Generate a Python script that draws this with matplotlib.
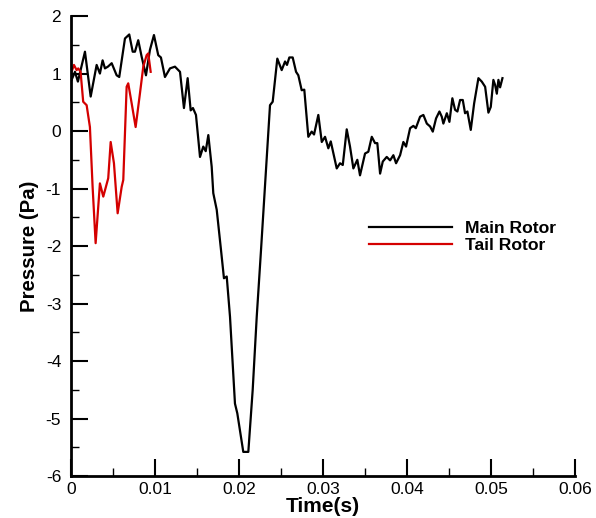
import matplotlib.pyplot as plt
from matplotlib.ticker import MultipleLocator, FuncFormatter

plt.rcParams['font.family'] = ['Liberation Sans', 'DejaVu Sans']
plt.rcParams['axes.unicode_minus'] = False

main_t = [0.00008, 0.00048, 0.00083, 0.00167, 0.00235, 0.00306, 0.00345, 0.00377,
          0.00405, 0.0044, 0.00485, 0.00544, 0.00575, 0.00643, 0.00694, 0.00735,
          0.00762, 0.00801, 0.00842, 0.00893, 0.0094, 0.00988, 0.01039, 0.01071,
          0.01119, 0.01179, 0.01238, 0.01298, 0.01345, 0.01389, 0.01425, 0.01452,
          0.01488, 0.01536, 0.01575, 0.01604, 0.01635, 0.01675, 0.01694, 0.01735,
          0.01774, 0.01786, 0.01821, 0.01854, 0.01893, 0.01952, 0.0198, 0.02051,
          0.02111, 0.02163, 0.02211, 0.02262, 0.02369, 0.02401, 0.02456, 0.02508,
          0.02548, 0.02571, 0.02599, 0.02639, 0.02679, 0.02706, 0.02746, 0.02777,
          0.02825, 0.02865, 0.02893, 0.02944, 0.02985, 0.03024, 0.03063, 0.03092,
          0.03115, 0.03163, 0.03202, 0.03235, 0.03282, 0.03321, 0.03361, 0.03408,
          0.0344, 0.035, 0.03539, 0.0358, 0.03619, 0.03646, 0.03679, 0.03711,
          0.03758, 0.03798, 0.03837, 0.03869, 0.03917, 0.03956, 0.03988, 0.04036,
          0.04075, 0.04104, 0.04155, 0.04194, 0.04235, 0.04274, 0.04306, 0.04345,
          0.04385, 0.04413, 0.04432, 0.04473, 0.04504, 0.04539, 0.04571, 0.04599,
          0.04631, 0.04663, 0.0469, 0.04718, 0.04758, 0.04798, 0.04849, 0.04889,
          0.04929, 0.04968, 0.04996, 0.05027, 0.05048, 0.05068, 0.05087, 0.05107,
          0.05135]
main_p = [0.89, 1.03, 0.86, 1.38, 0.60, 1.15, 1.00, 1.23,
          1.09, 1.12, 1.18, 0.97, 0.94, 1.61, 1.68, 1.38,
          1.38, 1.58, 1.29, 0.97, 1.41, 1.67, 1.32, 1.28,
          0.94, 1.09, 1.12, 1.03, 0.40, 0.92, 0.36, 0.40,
          0.28, -0.45, -0.27, -0.35, -0.07, -0.62, -1.08, -1.37,
          -1.90, -2.07, -2.56, -2.53, -3.23, -4.74, -4.91, -5.58,
          -5.58, -4.50, -3.23, -2.07, 0.45, 0.51, 1.26, 1.06,
          1.21, 1.15, 1.28, 1.28, 1.03, 0.97, 0.71, 0.72,
          -0.10, -0.01, -0.06, 0.28, -0.19, -0.10, -0.30, -0.18,
          -0.33, -0.65, -0.56, -0.59, 0.03, -0.27, -0.65, -0.50,
          -0.77, -0.39, -0.36, -0.10, -0.21, -0.21, -0.74, -0.53,
          -0.45, -0.51, -0.42, -0.56, -0.42, -0.19, -0.27, 0.05,
          0.09, 0.05, 0.25, 0.28, 0.13, 0.08, -0.01, 0.22,
          0.34, 0.25, 0.13, 0.31, 0.16, 0.57, 0.37, 0.34,
          0.54, 0.54, 0.31, 0.34, 0.02, 0.48, 0.92, 0.86,
          0.77, 0.32, 0.42, 0.89, 0.80, 0.65, 0.89, 0.76,
          0.92]

tail_t = [0.00008, 0.00036, 0.00068, 0.00087, 0.00115, 0.00146, 0.00187, 0.00226,
          0.00258, 0.00294, 0.00345, 0.00385, 0.00444, 0.00473, 0.00512, 0.00556,
          0.00604, 0.00623, 0.00663, 0.00682, 0.00723, 0.0077, 0.00821, 0.00861,
          0.00901, 0.0092, 0.00949]
tail_p = [1.03, 1.15, 1.06, 1.09, 1.03, 0.51, 0.45, 0.07,
          -0.97, -1.95, -0.91, -1.14, -0.82, -0.19, -0.56, -1.43,
          -0.97, -0.85, 0.77, 0.83, 0.48, 0.07, 0.65, 1.12,
          1.32, 1.35, 1.03]

fig = plt.figure(figsize=(5.96, 5.18), dpi=100)
ax = fig.add_axes([0.119, 0.081, 0.846, 0.888])

ax.plot(main_t, main_p, color='black', lw=1.6, label='Main Rotor')
ax.plot(tail_t, tail_p, color='#d40000', lw=1.6, label='Tail Rotor')

ax.set_xlim(0, 0.06)
ax.set_ylim(-6, 2)
ax.xaxis.set_major_locator(MultipleLocator(0.01))
ax.xaxis.set_minor_locator(MultipleLocator(0.005))
ax.yaxis.set_major_locator(MultipleLocator(1))
ax.yaxis.set_minor_locator(MultipleLocator(0.5))
ax.xaxis.set_major_formatter(FuncFormatter(lambda v, p: '0' if abs(v) < 1e-9 else '%g' % round(v, 3)))
ax.yaxis.set_major_formatter(FuncFormatter(lambda v, p: '%d' % round(v)))

for s in ['top', 'right']:
    ax.spines[s].set_visible(False)
for s in ['left', 'bottom']:
    ax.spines[s].set_linewidth(2)

ax.tick_params(which='major', direction='in', length=12, width=1.5, labelsize=12.5)
ax.tick_params(which='minor', direction='in', length=6, width=1)
ax.tick_params(axis='x', which='major', pad=4)
ax.tick_params(axis='y', which='major', pad=7)

ax.set_xlabel('Time(s)', fontsize=15, fontweight='bold', labelpad=0)
ax.set_ylabel('Pressure (Pa)', fontsize=14.7, fontweight='bold', labelpad=5)

ax.legend(loc='center left', bbox_to_anchor=(0.577, 0.52), frameon=False, borderaxespad=0,
          handlelength=4.75, handletextpad=0.74, prop={'weight': 'bold', 'size': 12.6},
          labelspacing=0.12)

fig.savefig('out.png')
